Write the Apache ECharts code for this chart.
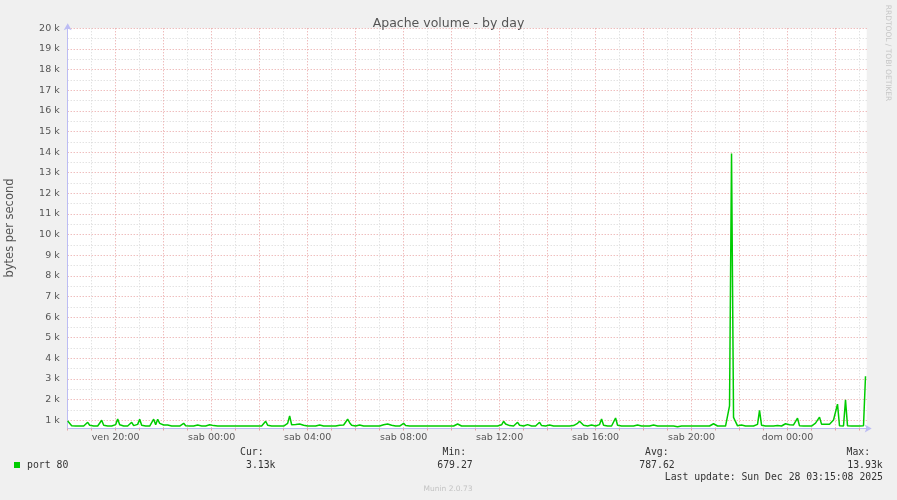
<!DOCTYPE html>
<html>
<head>
<meta charset="utf-8">
<title>Apache volume - by day</title>
<script src="https://cdn.jsdelivr.net/npm/echarts@6/dist/echarts.min.js"></script>
<style>
    html, body { margin: 0; padding: 0; background: #f0f0f0; }
    #main { width: 897px; height: 500px; }
</style>
</head>
<body>
<div id="main"></div>
<script>
// campioni ogni 5 minuti, dal ven 18:00 (bytes per second)
const stepMinutes = 5;
const startHour = 18;
const dayNames = ['ven', 'sab', 'dom'];

const volume = [
    960, 880, 730, 720, 720, 720, 720, 720, 720, 780, 900, 760, 720, 720, 720, 720, 790, 1000, 760, 720,
    720, 720, 720, 720, 790, 1060, 780, 720, 720, 720, 720, 790, 900, 740, 720, 800, 1050, 760, 720, 720,
    720, 720, 800, 1050, 780, 1050, 850, 760, 770, 730, 770, 730, 720, 720, 720, 720, 720, 760, 850, 730,
    720, 720, 720, 720, 720, 770, 720, 720, 770, 720, 720, 780, 870, 740, 720, 720, 720, 720, 770, 720,
    720, 720, 720, 720, 720, 720, 720, 720, 720, 720, 720, 720, 720, 720, 720, 720, 720, 720, 780, 950,
    760, 720, 720, 720, 720, 720, 720, 720, 720, 760, 850, 1210, 780, 770, 790, 800, 820, 850, 760, 720,
    720, 720, 720, 720, 720, 720, 770, 720, 720, 720, 720, 720, 720, 720, 720, 720, 760, 770, 770, 790,
    1050, 880, 760, 720, 720, 720, 770, 720, 720, 720, 720, 770, 720, 720, 720, 720, 720, 720, 780, 720,
    820, 800, 760, 720, 720, 770, 720, 720, 850, 740, 770, 720, 720, 720, 720, 720, 720, 720, 720, 720,
    770, 720, 720, 720, 720, 720, 720, 720, 770, 720, 720, 720, 720, 720, 780, 820, 780, 720, 720, 720,
    720, 720, 770, 720, 720, 720, 720, 720, 720, 720, 720, 720, 720, 720, 780, 720, 720, 780, 950, 820,
    800, 740, 770, 720, 780, 900, 760, 800, 720, 720, 790, 720, 720, 720, 720, 780, 900, 740, 720, 720,
    720, 770, 720, 720, 720, 720, 770, 720, 720, 720, 720, 720, 800, 740, 770, 850, 950, 1000, 760, 720,
    720, 720, 770, 720, 720, 720, 790, 1060, 760, 720, 720, 720, 720, 790, 1110, 760, 720, 720, 720, 720,
    720, 720, 720, 720, 720, 770, 720, 720, 770, 720, 770, 720, 720, 770, 720, 720, 720, 720, 760, 720,
    720, 720, 720, 720, 720, 680, 720, 720, 720, 720, 720, 720, 720, 720, 720, 720, 720, 720, 720, 720,
    720, 720, 780, 830, 770, 720, 720, 720, 720, 720, 720, 1700, 13930, 1140, 930, 730, 720, 770, 720, 720,
    720, 720, 770, 720, 720, 800, 1480, 760, 720, 720, 770, 720, 720, 720, 720, 740, 720, 720, 720, 830,
    780, 780, 860, 770, 800, 1100, 730, 720, 720, 720, 720, 720, 720, 720, 860, 790, 1150, 810, 810, 810,
    800, 810, 730, 1010, 940, 1780, 730, 720, 720, 1990, 730, 720, 720, 760, 720, 720, 720, 720, 730, 3130
];

const legendHeads = ['Cur:', 'Min:', 'Avg:', 'Max:'];
const legendValues = ['3.13k', '679.27', '787.62', '13.93k'];
const lastUpdate = 'Last update: Sun Dec 28 03:15:08 2025';

const MGRID = '#e8a0a0';
const GRID = '#d6d6d6';
const AXIS = '#bcbcf4';
const NONE = 'rgba(0,0,0,0)';

const headX = [240, 442.5, 645, 846.5];
const valueX = [246, 437.3, 639.3, 847.3];

document.addEventListener('DOMContentLoaded', function () {
    const myChart = echarts.init(document.getElementById('main'), null, { renderer: 'canvas' });

    const points = volume.map((v, i) => [i * stepMinutes / 60, v]);

    const graphics = [
        {
            type: 'text', x: 10, y: 228, rotation: Math.PI / 2,
            style: { text: 'bytes per second', font: '11.5px "DejaVu Sans"', fill: '#555',
                align: 'center', verticalAlign: 'middle', textAlign: 'center', textVerticalAlign: 'middle' }
        },
        {
            type: 'text', x: 888, y: 53, rotation: -Math.PI / 2,
            style: { text: 'RRDTOOL / TOBI OETIKER', font: '7.5px "DejaVu Sans"', fill: '#c6c6c6',
                align: 'center', verticalAlign: 'middle', textAlign: 'center', textVerticalAlign: 'middle' }
        },
        {
            type: 'rect', shape: { x: 14, y: 462, width: 6, height: 6 },
            style: { fill: '#00cc00' }
        },
        {
            type: 'text', x: 27, y: 465,
            style: { text: 'port 80', font: '9.8px "DejaVu Sans Mono"', fill: '#333',
                align: 'left', verticalAlign: 'middle', textAlign: 'left', textVerticalAlign: 'middle' }
        },
        {
            type: 'text', x: 883, y: 477,
            style: { text: lastUpdate, font: '9.8px "DejaVu Sans Mono"', fill: '#333',
                align: 'right', verticalAlign: 'middle', textAlign: 'right', textVerticalAlign: 'middle' }
        },
        {
            type: 'text', x: 448, y: 489,
            style: { text: 'Munin 2.0.73', font: '7.5px "DejaVu Sans"', fill: '#c3c3c3',
                align: 'center', verticalAlign: 'middle', textAlign: 'center', textVerticalAlign: 'middle' }
        }
    ];

    legendHeads.forEach((t, i) => {
        graphics.push({
            type: 'text', x: headX[i], y: 452.5,
            style: { text: t, font: '9.8px "DejaVu Sans Mono"', fill: '#333',
                align: 'left', verticalAlign: 'middle', textAlign: 'left', textVerticalAlign: 'middle' }
        });
        graphics.push({
            type: 'text', x: valueX[i], y: 465,
            style: { text: legendValues[i], font: '9.8px "DejaVu Sans Mono"', fill: '#333',
                align: 'left', verticalAlign: 'middle', textAlign: 'left', textVerticalAlign: 'middle' }
        });
    });

    const option = {
        backgroundColor: '#f0f0f0',
        animation: false,
        title: {
            text: 'Apache volume - by day',
            left: 'center',
            top: 12.5,
            textStyle: { fontFamily: 'DejaVu Sans', fontSize: 12.5, fontWeight: 'normal', color: '#555' }
        },
        grid: {
            left: 67.7, right: 30.3, top: 28.3, bottom: 71.5,
            show: true, backgroundColor: '#ffffff', borderWidth: 0
        },
        xAxis: {
            type: 'value',
            min: 0,
            max: 33.3,
            interval: 1,
            axisLine: {
                show: true, onZero: false,
                lineStyle: { color: AXIS, width: 1 },
                symbol: ['none', 'arrow'], symbolSize: [6, 7], symbolOffset: [0, 5]
            },
            axisTick: { show: true, length: 2, lineStyle: { color: MGRID } },
            axisLabel: {
                margin: 4,
                color: '#555',
                fontFamily: 'DejaVu Sans',
                fontSize: 9.5,
                formatter: function (v) {
                    if (Math.abs(v - Math.round(v)) > 1e-6) return '';
                    const h = startHour + Math.round(v);
                    if (h % 4 !== 0) return '';
                    const hh = h % 24;
                    return dayNames[Math.floor(h / 24)] + ' ' + (hh < 10 ? '0' + hh : hh) + ':00';
                }
            },
            splitLine: {
                show: true,
                showMaxLine: false,
                lineStyle: { color: [MGRID, GRID], type: [1, 2], width: 1 }
            }
        },
        yAxis: {
            type: 'value',
            min: 600,
            max: 20000,
            interval: 100,
            axisLine: {
                show: true,
                lineStyle: { color: AXIS, width: 1 },
                symbol: ['none', 'arrow'], symbolSize: [6, 7], symbolOffset: [0, 5]
            },
            axisTick: { show: false },
            axisLabel: {
                margin: 8,
                color: '#555',
                fontFamily: 'DejaVu Sans',
                fontSize: 9.5,
                formatter: function (v) {
                    const r = Math.round(v);
                    return r % 1000 === 0 ? (r / 1000) + ' k' : '';
                }
            },
            splitLine: {
                show: true,
                lineStyle: {
                    color: [NONE, NONE, NONE, NONE, MGRID, NONE, NONE, NONE, NONE, GRID],
                    type: [1, 2], width: 1
                }
            }
        },
        series: [
            {
                name: 'port 80',
                type: 'line',
                data: points,
                showSymbol: false,
                symbol: 'none',
                sampling: false,
                lineStyle: { color: '#00cc00', width: 1.5 },
                z: 5
            }
        ],
        graphic: graphics
    };

    myChart.setOption(option);
});
</script>
</body>
</html>
